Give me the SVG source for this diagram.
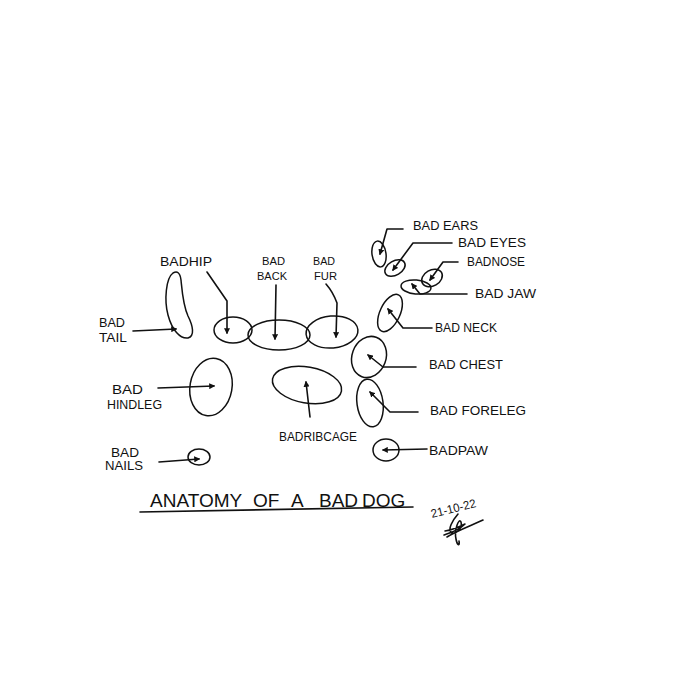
<svg xmlns="http://www.w3.org/2000/svg" width="680" height="680" viewBox="0 0 680 680">
<defs>
<style>
.o{fill:none;stroke:#111;stroke-width:1.5}
.c{fill:none;stroke:#111;stroke-width:1.6;stroke-linecap:round;stroke-linejoin:round}
.t{font-family:"Liberation Sans",Arial,sans-serif;font-size:12px;fill:#111}
.s{font-size:11px}
.title{font-family:"Liberation Sans",Arial,sans-serif;font-size:19px;fill:#111}
</style>
<marker id="ah" viewBox="0 0 10 10" refX="8" refY="5" markerWidth="6" markerHeight="6" orient="auto" markerUnits="userSpaceOnUse">
<path d="M0,0 L10,5 L0,10 z" fill="#111"/>
</marker>
</defs>
<rect width="680" height="680" fill="#fff"/>

<g id="connectors">
<path class="c" marker-end="url(#ah)" d="M133,331 L176,329"/>
<path class="c" marker-end="url(#ah)" d="M207,272 L227,301 L227,333"/>
<path class="c" marker-end="url(#ah)" d="M158,388 L214,386"/>
<path class="c" marker-end="url(#ah)" d="M276,285 L275,339"/>
<path class="c" marker-end="url(#ah)" d="M326,284 Q333,292 337,303 L336,337"/>
<path class="c" marker-end="url(#ah)" d="M310,417 L306,382"/>
<path class="c" marker-end="url(#ah)" d="M403,229 L387,229 L380,254"/>
<path class="c" marker-end="url(#ah)" d="M452,243 L413,243 L393,270"/>
<path class="c" marker-end="url(#ah)" d="M458,262 L443,262 L430,280"/>
<path class="c" marker-end="url(#ah)" d="M467,294 L420,294 L412,284"/>
<path class="c" marker-end="url(#ah)" d="M432,328 L403,328 L388,309"/>
<path class="c" marker-end="url(#ah)" d="M416,367 L383,367 L368,355"/>
<path class="c" marker-end="url(#ah)" d="M418,412 L390,412 L370,392"/>
<path class="c" marker-end="url(#ah)" d="M427,449 L383,450"/>
<path class="c" marker-end="url(#ah)" d="M159,462 L199,459"/>
</g>

<g id="tail">
<path class="o" d="M173,273 C166,278 164,300 168,315 C172,330 180,339 188,338 C195,336 193,326 188,316 C183,305 182,290 181,280 C180,272 177,271 173,273 Z"/>
<text class="t" x="99" y="327" textLength="26" lengthAdjust="spacingAndGlyphs">BAD</text>
<text class="t" x="99" y="342" textLength="28" lengthAdjust="spacingAndGlyphs">TAIL</text>
</g>

<g id="hip">
<ellipse class="o" cx="233" cy="330" rx="19" ry="13"/>
<text class="t" x="160" y="266" textLength="52" lengthAdjust="spacingAndGlyphs">BADHIP</text>
</g>

<g id="back">
<ellipse class="o" cx="279" cy="335" rx="31" ry="15"/>
<text class="t s" x="262" y="265" textLength="23" lengthAdjust="spacingAndGlyphs">BAD</text>
<text class="t s" x="257" y="280" textLength="30" lengthAdjust="spacingAndGlyphs">BACK</text>
</g>

<g id="fur">
<ellipse class="o" cx="332" cy="332" rx="26" ry="16" transform="rotate(-5 332 332)"/>
<text class="t s" x="313" y="265" textLength="22" lengthAdjust="spacingAndGlyphs">BAD</text>
<text class="t s" x="314" y="280" textLength="23" lengthAdjust="spacingAndGlyphs">FUR</text>
</g>

<g id="hindleg">
<ellipse class="o" cx="211" cy="387" rx="21" ry="29" transform="rotate(10 211 387)"/>
<text class="t" x="112" y="394" textLength="31" lengthAdjust="spacingAndGlyphs">BAD</text>
<text class="t" x="107" y="409" textLength="55" lengthAdjust="spacingAndGlyphs">HINDLEG</text>
</g>

<g id="ribcage">
<ellipse class="o" cx="307" cy="385" rx="35" ry="18" transform="rotate(10 307 385)"/>
<text class="t" x="279" y="441" textLength="78" lengthAdjust="spacingAndGlyphs">BADRIBCAGE</text>
</g>

<g id="nails">
<ellipse class="o" cx="199" cy="457" rx="11" ry="8"/>
<text class="t" x="111" y="457" textLength="28" lengthAdjust="spacingAndGlyphs">BAD</text>
<text class="t" x="105" y="470" textLength="38" lengthAdjust="spacingAndGlyphs">NAILS</text>
</g>

<g id="ears">
<ellipse class="o" cx="379" cy="254" rx="7" ry="13" transform="rotate(-8 379 254)"/>
<text class="t" x="413" y="230" textLength="65" lengthAdjust="spacingAndGlyphs">BAD EARS</text>
</g>

<g id="eyes">
<ellipse class="o" cx="395" cy="268" rx="11" ry="7" transform="rotate(-30 395 268)"/>
<text class="t" x="458" y="247" textLength="68" lengthAdjust="spacingAndGlyphs">BAD EYES</text>
</g>

<g id="nose">
<ellipse class="o" cx="432" cy="278" rx="11" ry="8" transform="rotate(-30 432 278)"/>
<text class="t" x="467" y="266" textLength="58" lengthAdjust="spacingAndGlyphs">BADNOSE</text>
</g>

<g id="jaw">
<ellipse class="o" cx="416" cy="287" rx="15" ry="7" transform="rotate(5 416 287)"/>
<text class="t" x="475" y="298" textLength="61" lengthAdjust="spacingAndGlyphs">BAD JAW</text>
</g>

<g id="neck">
<ellipse class="o" cx="390" cy="313" rx="10" ry="20" transform="rotate(25 390 313)"/>
<text class="t" x="435" y="332" textLength="62" lengthAdjust="spacingAndGlyphs">BAD NECK</text>
</g>

<g id="chest">
<ellipse class="o" cx="369" cy="357" rx="17" ry="21" transform="rotate(20 369 357)"/>
<text class="t" x="429" y="369" textLength="74" lengthAdjust="spacingAndGlyphs">BAD CHEST</text>
</g>

<g id="foreleg">
<ellipse class="o" cx="370" cy="403" rx="13" ry="24" transform="rotate(-8 370 403)"/>
<text class="t" x="430" y="415" textLength="96" lengthAdjust="spacingAndGlyphs">BAD FORELEG</text>
</g>

<g id="paw">
<ellipse class="o" cx="386" cy="450" rx="13" ry="11"/>
<text class="t" x="429" y="455" textLength="59" lengthAdjust="spacingAndGlyphs">BADPAW</text>
</g>

<g id="title">
<text class="title" y="507"><tspan x="150">ANATOMY</tspan> <tspan x="253">OF</tspan> <tspan x="291">A</tspan> <tspan x="319">BAD</tspan> <tspan x="362">DOG</tspan></text>
<path class="c" d="M140,512 L413,507"/>
</g>

<g id="signature">
<text class="t" x="432" y="518" font-size="11" textLength="46" lengthAdjust="spacingAndGlyphs" transform="rotate(-14 432 518)">21-10-22</text>
<path class="c" stroke-width="1.4" d="M458,514 C452,521 448,529 451,532 C455,536 463,528 461,522 C459,517 454,530 456,539 C457,545 460,547 459,541 M447,537 C456,531 470,526 483,520 M445,531 C452,530 459,527 465,524 C458,531 450,533 444,535"/>
</g>
</svg>
